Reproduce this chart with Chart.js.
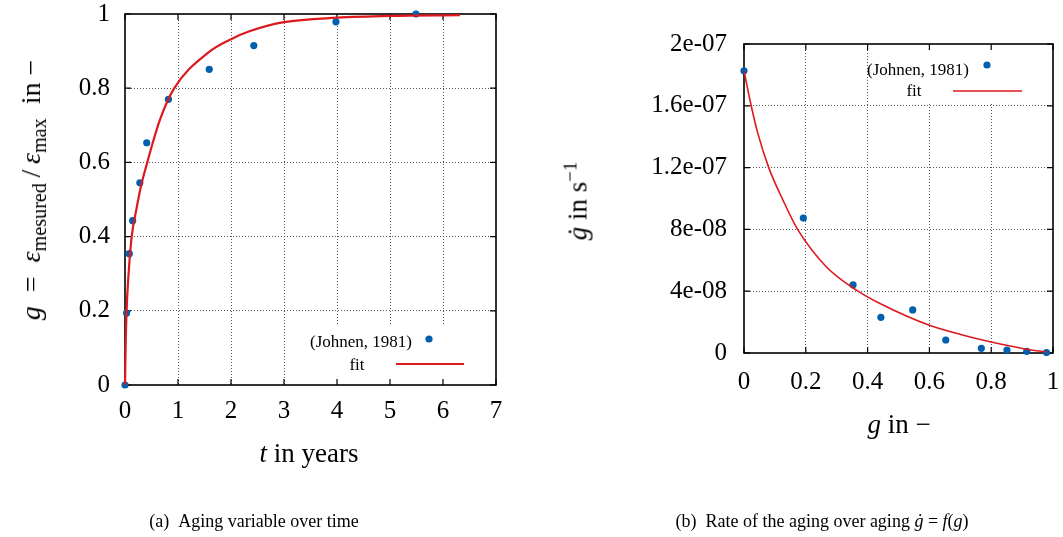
<!DOCTYPE html>
<html>
<head>
<meta charset="utf-8">
<script src="https://cdn.jsdelivr.net/npm/chart.js@4/dist/chart.umd.min.js"></script>
<style>
  html, body { margin:0; padding:0; background:#fff; width:1063px; height:537px; overflow:hidden;
    font-family:"Liberation Serif","Times New Roman",serif; }
  canvas { position:absolute; top:0; }
  #c1 { left:0; }
  #c2 { left:530px; }
  .lbl { position:absolute; white-space:nowrap; font-size:27px; color:#000; line-height:1;
    transform:translate(-50%,-50%); }
  .rot { transform:translate(-50%,-50%) rotate(-90deg); }
  .cap { font-size:18px; }
  .lbl sub { font-size:0.72em; vertical-align:-0.3em; line-height:0; }
  .lbl sup { font-size:0.7em; vertical-align:0.55em; line-height:0; }
</style>
</head>
<body>
<canvas id="c1" width="530" height="537"></canvas>
<canvas id="c2" width="533" height="537"></canvas>

<div class="lbl rot" style="left:31px; top:190px; font-size:28px;"><i>g</i>&ensp;=&ensp;<i>ε</i><sub>mesured</sub>&thinsp;/&thinsp;<i>ε</i><sub>max</sub>&nbsp;&nbsp;in&nbsp;−</div>
<div class="lbl" style="left:309px; top:453px;"><i>t</i> in years</div>
<div class="lbl rot" style="left:578px; top:201px;"><i>ġ</i> in s<sup>−1</sup></div>
<div class="lbl" style="left:899px; top:424px;"><i>g</i> in −</div>
<div class="lbl cap" style="left:254px; top:521px;">(a)&nbsp;&nbsp;Aging variable over time</div>
<div class="lbl cap" style="left:822px; top:521px;">(b)&nbsp;&nbsp;Rate of the aging over aging <i>ġ</i> = <i>f</i>(<i>g</i>)</div>

<script>
// ---------- data ----------
// (a) aging variable over time
const tYears    = [0, 0.03, 0.08, 0.145, 0.28, 0.41, 0.82, 1.59, 2.43, 3.98, 5.49];
const gMeasured = [0, 0.194, 0.354, 0.443, 0.545, 0.653, 0.770, 0.851, 0.915, 0.979, 1.0];
const fitT = [0, 0.013, 0.03, 0.063, 0.126, 0.21, 0.30, 0.42, 0.66, 0.93, 1.57, 2.0, 2.36, 3.0, 4.0, 5.0, 6.32];
const fitG = [0, 0.113, 0.20, 0.29, 0.40, 0.47, 0.535, 0.60, 0.715, 0.80, 0.896, 0.932, 0.954, 0.978, 0.990, 0.995, 0.997];
const xTicksA = ['0','1','2','3','4','5','6','7'];
const yTicksA = ['0','0.2','0.4','0.6','0.8','1'];

// (b) rate of aging over aging
const gAging = [0, 0.192, 0.353, 0.443, 0.546, 0.653, 0.768, 0.851, 0.915, 0.979];
const gRate  = [1.827e-7, 8.73e-8, 4.41e-8, 2.31e-8, 2.79e-8, 8.4e-9, 3.0e-9, 1.9e-9, 1.1e-9, 3e-10];
const fitGx   = [0, 0.024, 0.045, 0.081, 0.126, 0.175, 0.267, 0.365, 0.44, 0.6, 0.71, 0.8, 0.905, 0.98];
const fitRate = [1.825e-7, 1.594e-7, 1.42e-7, 1.195e-7, 9.9e-8, 7.95e-8, 5.57e-8, 4.05e-8, 3.2e-8, 1.79e-8, 1.15e-8, 7.1e-9, 2.8e-9, 6e-10];
const xTicksB = ['0','0.2','0.4','0.6','0.8','1'];
const yTicksB = ['0','4e-08','8e-08','1.2e-07','1.6e-07','2e-07'];

const legendLabels = ['(Johnen, 1981)', 'fit'];

// ---------- styling ----------
const SERIF = "'Liberation Serif','Times New Roman',serif";
const BLUE = '#0060ad';
const RED = '#dd181f';
const GRID = '#555';

function pts(xs, ys) { return xs.map((x, i) => ({ x: x, y: ys[i] })); }

function fixedAxis(size, vertical) {
  return function (scale) {
    if (vertical) scale.width = size; else scale.height = size;
    scale.paddingLeft = scale.paddingRight = scale.paddingTop = scale.paddingBottom = 0;
  };
}

function gridColor(ctx) {
  const s = ctx.scale;
  if (!ctx.tick) return 'rgba(0,0,0,0)';
  const v = ctx.tick.value;
  const eps = (s.max - s.min) * 1e-6;
  return (Math.abs(v - s.min) < eps || Math.abs(v - s.max) < eps) ? 'rgba(0,0,0,0)' : GRID;
}

// frame, inner mirrored ticks and opaque key box (drawn after grid, before data)
const framePlugin = {
  id: 'frame',
  beforeDatasetsDraw(chart, args, o) {
    const { ctx, chartArea: a, scales: { x, y } } = chart;
    ctx.save();
    if (o.box) {
      ctx.fillStyle = '#fff';
      ctx.fillRect(a.right - o.box.w, o.box.fromTop ? a.top : a.bottom - o.box.h, o.box.w, o.box.h);
    }
    ctx.strokeStyle = '#000';
    ctx.lineWidth = 1.2;
    const tl = 6;
    ctx.beginPath();
    x.ticks.forEach(t => {
      const px = x.getPixelForValue(t.value);
      ctx.moveTo(px, a.bottom); ctx.lineTo(px, a.bottom - tl);
      ctx.moveTo(px, a.top); ctx.lineTo(px, a.top + tl);
    });
    y.ticks.forEach(t => {
      const py = y.getPixelForValue(t.value);
      ctx.moveTo(a.left, py); ctx.lineTo(a.left + tl, py);
      ctx.moveTo(a.right, py); ctx.lineTo(a.right - tl, py);
    });
    ctx.stroke();
    ctx.lineWidth = 1.6;
    ctx.strokeRect(a.left, a.top, a.right - a.left, a.bottom - a.top);
    ctx.restore();
  }
};

// gnuplot-style key: text then sample
const keyPlugin = {
  id: 'key',
  afterDatasetsDraw(chart, args, o) {
    const { ctx, chartArea: a } = chart;
    ctx.save();
    ctx.font = '17px ' + SERIF;
    ctx.fillStyle = '#000';
    ctx.textAlign = 'center';
    ctx.textBaseline = 'middle';
    const ds = chart.data.datasets;
    const ref = o.fromTop ? a.top : a.bottom;
    ctx.fillText(ds[1].label, a.right + o.t1x, ref + o.t1y);
    ctx.fillStyle = BLUE;
    ctx.beginPath();
    ctx.arc(a.right + o.px, ref + o.py, 3.6, 0, Math.PI * 2);
    ctx.fill();
    ctx.fillStyle = '#000';
    ctx.fillText(ds[0].label, a.right + o.t2x, ref + o.t2y);
    ctx.strokeStyle = RED;
    ctx.lineWidth = o.lw;
    ctx.beginPath();
    ctx.moveTo(a.right + o.l1, ref + o.ly);
    ctx.lineTo(a.right + o.l2, ref + o.ly);
    ctx.stroke();
    ctx.restore();
  }
};

function makeChart(id, cfg) {
  return new Chart(document.getElementById(id), {
    type: 'scatter',
    data: {
      datasets: [
        { label: legendLabels[1], data: pts(cfg.fx, cfg.fy), showLine: true, pointRadius: 0,
          borderColor: RED, borderWidth: cfg.lw, cubicInterpolationMode: 'monotone', clip: false },
        { label: legendLabels[0], data: pts(cfg.px, cfg.py), showLine: false, pointRadius: 3.6,
          pointBorderWidth: 0, backgroundColor: BLUE, borderColor: BLUE, clip: false }
      ]
    },
    options: {
      responsive: false, animation: false, events: [],
      layout: { padding: cfg.pad },
      plugins: { legend: { display: false }, tooltip: { enabled: false },
        frame: cfg.frame, key: cfg.key },
      scales: {
        x: {
          type: 'linear', min: cfg.xmin, max: cfg.xmax,
          afterFit: fixedAxis(cfg.xh, false),
          grid: { color: gridColor, lineWidth: 1, drawTicks: false },
          border: { display: false, dash: [1, 2] },
          ticks: { stepSize: cfg.xstep, padding: cfg.xpad, color: '#000', maxRotation: 0, autoSkip: false,
            font: { family: SERIF, size: 25 }, callback: (v, i) => cfg.xt[i] }
        },
        y: {
          type: 'linear', min: cfg.ymin, max: cfg.ymax,
          afterFit: fixedAxis(cfg.yw, true),
          grid: { color: gridColor, lineWidth: 1, drawTicks: false },
          border: { display: false, dash: [1, 2] },
          ticks: { stepSize: cfg.ystep, padding: cfg.ypad, color: '#000', autoSkip: false,
            font: { family: SERIF, size: 25 }, callback: (v, i) => cfg.yt[i] }
        }
      }
    },
    plugins: [framePlugin, keyPlugin]
  });
}

// chart (a): plot area x 125..496, y 14..385 in a 530x537 canvas
makeChart('c1', {
  fx: fitT, fy: fitG, px: tYears, py: gMeasured, lw: 2.2,
  xmin: 0, xmax: 7, xstep: 1, ymin: 0, ymax: 1, ystep: 0.2,
  xt: xTicksA, yt: yTicksA,
  pad: { left: 0, top: 14, right: 34, bottom: 92 },
  xh: 60, yw: 125, xpad: 11, ypad: 15,
  frame: { box: { w: 196, h: 59, fromTop: false } },
  key: { fromTop: false, t1x: -135, t1y: -42, px: -67, py: -46,
         t2x: -139, t2y: -19, l1: -100, l2: -32, ly: -21, lw: 2 }
});

// chart (b): plot area x 744..1053, y 44..353 (canvas offset 530)
makeChart('c2', {
  fx: fitGx, fy: fitRate, px: gAging, py: gRate, lw: 1.6,
  xmin: 0, xmax: 1, xstep: 0.2, ymin: 0, ymax: 2e-7, ystep: 4e-8,
  xt: xTicksB, yt: yTicksB,
  pad: { left: 0, top: 44, right: 10, bottom: 124 },
  xh: 60, yw: 214, xpad: 14, ypad: 17,
  frame: { box: { w: 182, h: 60, fromTop: true } },
  key: { fromTop: true, t1x: -135, t1y: 27, px: -66, py: 21,
         t2x: -139, t2y: 48, l1: -100, l2: -31, ly: 47, lw: 1.6 }
});
</script>
</body>
</html>
